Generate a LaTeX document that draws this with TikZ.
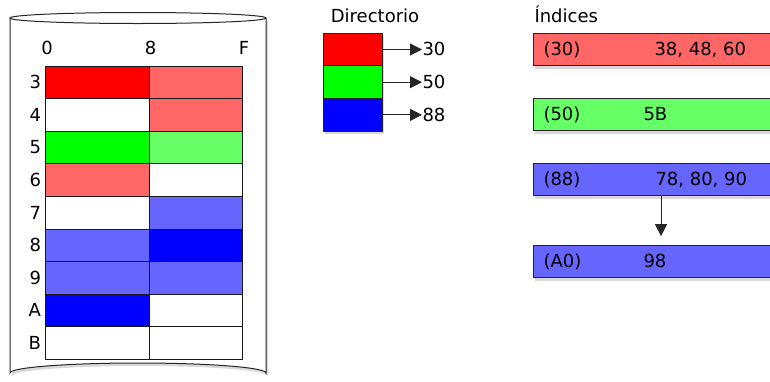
\documentclass[tikz,border=0pt]{standalone}
\usepackage{fontspec}
\setmainfont{DejaVu Sans}
\usetikzlibrary{arrows.meta,positioning,shadows}
\tikzset{every picture/.style={line width=1pt}}
\definecolor{rojo}{HTML}{FF0000}
\definecolor{rojoclaro}{HTML}{FF6666}
\definecolor{verde}{HTML}{00FF00}
\definecolor{verdeclaro}{HTML}{66FF66}
\definecolor{azul}{HTML}{0000FF}
\definecolor{azulclaro}{HTML}{6666FF}
\tikzset{
  sombra/.style={drop shadow={shadow xshift=2pt, shadow yshift=-3pt, opacity=0.3}},
  celda/.style={draw=black!90, minimum height=32.6pt, inner sep=0pt, outer sep=0pt},
  caja/.style={draw=black!85, sombra, minimum height=32.7pt, inner sep=0pt, outer sep=0pt},
  etiq/.style={font=\fontsize{18}{20}\selectfont, inner sep=0pt, text height=12.8pt, text depth=0pt},
  flecha/.style={-{Triangle[length=12pt,width=12pt]}, draw=black!85, fill=black},
}

\begin{document}
\begin{tikzpicture}[x={(1pt,0)}, y={(0,-1pt)}]
    \useasboundingbox (0,0) rectangle (770,381);
    \path[fill=white, sombra] (10,18) -- (10,373) arc[start angle=180, end angle=360, x radius=128, y radius=10] -- (266,18) -- cycle;
    \draw[black!85] (10,18) -- (10,373) arc[start angle=180, end angle=360, x radius=128, y radius=10] -- (266,18);
    \draw[black!85, fill=white] (138,18) ellipse [x radius=128, y radius=5.5];

    \node[etiq] (c0) at (47,48.5) {0};
    \node[etiq] (c8) at (150.5,48.5) {8};
    \node[etiq] (cF) at (244,48.5) {F};
    \foreach \lab/\ca/\cb [count=\i from 0] in {3/rojo/rojoclaro, 4/white/rojoclaro, 5/verde/verdeclaro, 6/rojoclaro/white, 7/white/azulclaro, 8/azulclaro/azul, 9/azulclaro/azulclaro, A/azul/white, B/white/white} {
        \node[celda, fill=\ca, minimum width=104pt] (a\i) at (97,{82.3+32.6*\i}) {};
        \node[celda, fill=\cb, minimum width=93pt, right=0pt of a\i] (b\i) {};
        \node[etiq, anchor=east] (r\i) at (41.5,{82.3+32.6*\i}) {\lab};
    }

    \node[etiq] (tdir) at (375,16) {Directorio};
    \node[caja, fill=rojo, minimum width=59pt] (d30) at (352.5,49.5) {};
    \node[caja, fill=verde, minimum width=59pt, below=0pt of d30] (d50) {};
    \node[caja, fill=azul, minimum width=59pt, below=0pt of d50] (d88) {};
    \node[etiq, right=40pt of d30.east] (p30) {30};
    \node[etiq, right=40pt of d50.east] (p50) {50};
    \node[etiq, right=40pt of d88.east] (p88) {88};
    \draw[flecha] (d30.east) -- (p30.west);
    \draw[flecha] (d50.east) -- (p50.west);
    \draw[flecha] (d88.east) -- (p88.west);

    \node[etiq, anchor=west] (tind) at (534,16) {Índices};
    \node[caja, fill=rojoclaro, anchor=west, minimum width=280pt] (i30) at (533,49.5) {};
    \node[caja, fill=verdeclaro, anchor=west, minimum width=280pt] (i50) at (533,114.5) {};
    \node[caja, fill=azulclaro, anchor=west, minimum width=280pt] (i88) at (533,179.5) {};
    \node[caja, fill=azulclaro, anchor=west, minimum width=280pt] (iA0) at (533,261.5) {};
    \node[etiq, right=10pt of i30.west] (k30) {(30)};
    \node[etiq, right=121pt of i30.west] (v30) {38, 48, 60};
    \node[etiq, right=10pt of i50.west] (k50) {(50)};
    \node[etiq, right=110pt of i50.west] (v50) {5B};
    \node[etiq, right=10pt of i88.west] (k88) {(88)};
    \node[etiq, right=122pt of i88.west] (v88) {78, 80, 90};
    \node[etiq, right=10pt of iA0.west] (kA0) {(A0)};
    \node[etiq, right=110pt of iA0.west] (vA0) {98};
    \draw[flecha, shorten >=9pt] ([xshift=128pt]i88.south west) -- ([xshift=128pt]iA0.north west);
\end{tikzpicture}
\end{document}
